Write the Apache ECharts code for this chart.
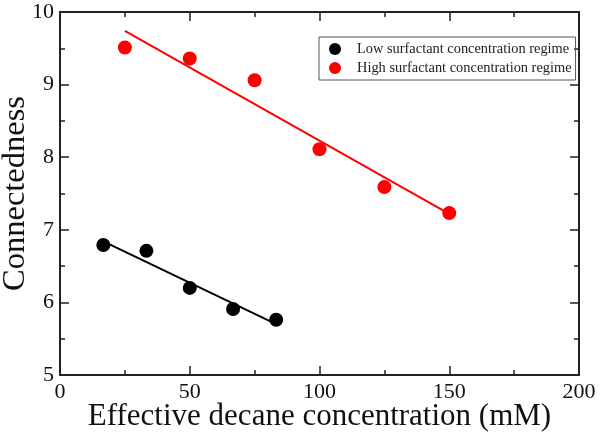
<!DOCTYPE html>
<html>
<head>
<meta charset="utf-8">
<script src="https://cdn.jsdelivr.net/npm/echarts@6/dist/echarts.min.js"></script>
<style>
  html, body { margin: 0; padding: 0; background: #fff; }
  #myChart { width: 600px; height: 434px; }
</style>
</head>
<body>
<div id="myChart"></div>
<script>
  // decane concentration (mM) vs connectedness
  const lowX = [16.7, 33.3, 50, 66.7, 83.3]
  const lowY = [6.79, 6.71, 6.2, 5.91, 5.76]
  const highX = [25, 50, 75, 100, 125, 150]
  const highY = [9.51, 9.36, 9.06, 8.11, 7.59, 7.23]
  // fitted lines (end points)
  const lowFitX = [16.7, 83.3]
  const lowFitY = [6.84, 5.70]
  const highFitX = [25, 150]
  const highFitY = [9.74, 7.22]

  const lowName = 'Low surfactant concentration regime'
  const highName = 'High surfactant concentration regime'

  const pairs = (xs, ys) => xs.map((x, i) => [x, ys[i]])

  const font = 'Liberation Serif, Times New Roman, serif'
  const axisColor = '#222'

  const frameAxis = () => ({
    axisLine: { show: true, onZero: false, lineStyle: { color: axisColor, width: 2 } },
    axisTick: { show: true, inside: true, length: 9, lineStyle: { color: axisColor, width: 1.5 } },
    minorTick: { show: true, splitNumber: 2, length: 5, lineStyle: { color: axisColor, width: 1.5 } },
    splitLine: { show: false },
    minorSplitLine: { show: false },
    nameMoveOverlap: false
  })

  const myChart = echarts.init(document.getElementById('myChart'))
  myChart.setOption({
    animation: false,
    backgroundColor: '#fff',
    textStyle: { fontFamily: font },
    grid: { left: 60, right: 21, top: 12, bottom: 59, containLabel: false, outerBoundsMode: 'none' },
    legend: {
      orient: 'vertical',
      left: 319,
      top: 37,
      padding: [5, 4, 5, 10],
      itemWidth: 34,
      itemHeight: 12,
      itemGap: 5,
      borderColor: '#555',
      borderWidth: 1,
      icon: 'circle',
      data: [lowName, highName],
      textStyle: { fontFamily: font, fontSize: 14.4, color: '#222' }
    },
    xAxis: [
      Object.assign(frameAxis(), {
        type: 'value',
        min: 0,
        max: 200,
        interval: 50,
        name: 'Effective decane concentration (mM)',
        nameLocation: 'middle',
        nameGap: 26,
        nameTextStyle: { fontFamily: font, fontSize: 31, color: '#111' },
        axisLabel: { fontFamily: font, fontSize: 22, color: '#111', margin: 6 }
      }),
      Object.assign(frameAxis(), {
        type: 'value',
        position: 'top',
        min: 0,
        max: 200,
        interval: 50,
        axisLabel: { show: false }
      })
    ],
    yAxis: [
      Object.assign(frameAxis(), {
        type: 'value',
        position: 'left',
        min: 5,
        max: 10,
        interval: 1,
        name: 'Connectedness',
        nameLocation: 'middle',
        nameGap: 28,
        nameTextStyle: { fontFamily: font, fontSize: 32.5, color: '#111' },
        axisLabel: { fontFamily: font, fontSize: 22, color: '#111', margin: 6 }
      }),
      Object.assign(frameAxis(), {
        type: 'value',
        position: 'right',
        min: 5,
        max: 10,
        interval: 1,
        axisLabel: { show: false }
      })
    ],
    series: [
      {
        name: 'low fit',
        type: 'line',
        data: pairs(lowFitX, lowFitY),
        showSymbol: false,
        lineStyle: { color: '#000', width: 2 },
        z: 2
      },
      {
        name: 'high fit',
        type: 'line',
        data: pairs(highFitX, highFitY),
        showSymbol: false,
        lineStyle: { color: '#ff0000', width: 2 },
        z: 2
      },
      {
        name: lowName,
        type: 'scatter',
        data: pairs(lowX, lowY),
        symbolSize: 14,
        itemStyle: { color: '#000', opacity: 1 },
        z: 3
      },
      {
        name: highName,
        type: 'scatter',
        data: pairs(highX, highY),
        symbolSize: 14,
        itemStyle: { color: '#ff0000', opacity: 1 },
        z: 3
      }
    ]
  })
</script>
</body>
</html>
